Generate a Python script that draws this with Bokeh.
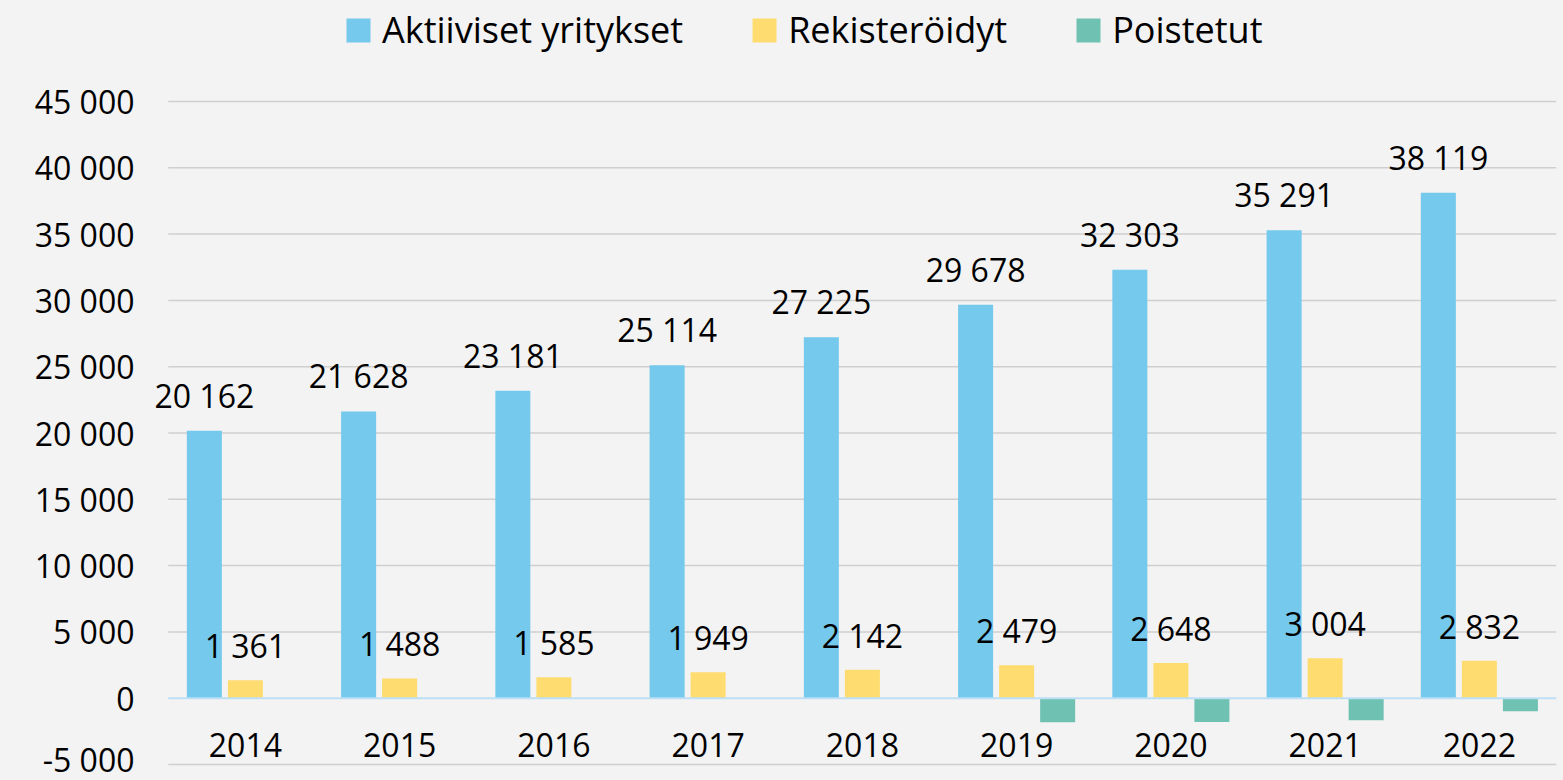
from bokeh.plotting import figure
from bokeh.layouts import column
from bokeh.models import (ColumnDataSource, Range1d, FixedTicker, CustomJSTickFormatter,
                          Legend, LegendItem, LabelSet)
from bokeh.transform import dodge
from bokeh.core.properties import value
from bokeh.embed import file_html
from bokeh.resources import INLINE

years = ["2014", "2015", "2016", "2017", "2018", "2019", "2020", "2021", "2022"]
aktiiviset = [20162, 21628, 23181, 25114, 27225, 29678, 32303, 35291, 38119]
rekisteroidyt = [1361, 1488, 1585, 1949, 2142, 2479, 2648, 3004, 2832]
poistetut = [float("nan")] * 5 + [-1810, -1800, -1660, -980]
y_ticks = [-5000, 0, 5000, 10000, 15000, 20000, 25000, 30000, 35000, 40000, 45000]

series_names = ["Aktiiviset yritykset", "Rekisteröidyt", "Poistetut"]
colors = ["#74C9EC", "#FFDC6F", "#6FC1B2"]

FONT = "Open Sans"
FS = "32px"
BG = "#F3F3F3"


def fmt(v):
    return f"{v:,}".replace(",", " ")


n = len(years)
pos = list(range(n))  # category slot index

src = ColumnDataSource(dict(
    pos=pos,
    year=years,
    akt=aktiiviset,
    rek=rekisteroidyt,
    poi=poistetut,
    akt_lbl=[fmt(v) for v in aktiiviset],
    rek_lbl=[fmt(v) for v in rekisteroidyt],
    zero=[0] * n,
))

# category slots span [-0.5, n-0.5]; a little extra room on the left for labels
left_room = 0.18
p = figure(width=1563, height=710, x_range=Range1d(-0.5 - left_room, n - 0.5),
           y_range=Range1d(-5150, 45150), output_backend="svg", toolbar_location=None,
           min_border_left=140, min_border_right=7, min_border_top=29, min_border_bottom=14,
           styles={"background-color": BG})
p.background_fill_color = BG
p.border_fill_color = BG
p.outline_line_color = None

p.xaxis.visible = False
p.xgrid.grid_line_color = None
p.ygrid.grid_line_color = None

yax = p.yaxis[0]
yax.ticker = FixedTicker(ticks=y_ticks)
yax.formatter = CustomJSTickFormatter(code="""
const s = Math.abs(tick).toFixed(0).replace(/\\B(?=(\\d{3})+(?!\\d))/g, ' ');
return (tick < 0 ? '-' : '') + s;
""")
yax.axis_line_color = None
yax.major_tick_line_color = None
yax.minor_tick_line_color = None
yax.major_tick_out = 0
yax.major_tick_in = 0
yax.major_label_standoff = 6
yax.major_label_text_font = FONT
yax.major_label_text_font_size = FS
yax.major_label_text_color = "#000000"

# horizontal gridlines across the category slots
grid_ticks = [t for t in y_ticks if t != 0]
p.segment(x0=[-0.5] * len(grid_ticks), x1=[n - 0.5] * len(grid_ticks),
          y0=grid_ticks, y1=grid_ticks, line_color="#CFCFCF", line_width=1.5)

offsets = [-0.266, 0.0, 0.266]
fields = ["akt", "rek", "poi"]
for f, off, c in zip(fields, offsets, colors):
    p.vbar(x=dodge("pos", off), top=f, bottom=0, width=0.227,
           source=src, fill_color=c, line_color=None)

# zero (category) axis line
p.segment(x0=[-0.5], x1=[n - 0.5], y0=[0], y1=[0], line_color="#BDDFF5", line_width=2)

# data labels
p.add_layout(LabelSet(x=dodge("pos", offsets[0]), y="akt", text="akt_lbl",
                      source=src, text_align="center", text_baseline="alphabetic", y_offset=23,
                      text_font=value(FONT), text_font_size=value(FS), text_color="#000000"))
p.add_layout(LabelSet(x=dodge("pos", offsets[1]), y="rek", text="rek_lbl",
                      source=src, text_align="center", text_baseline="alphabetic", y_offset=22,
                      text_font=value(FONT), text_font_size=value(FS), text_color="#000000"))

# category labels just below the zero line
p.add_layout(LabelSet(x="pos", y="zero", text="year", source=src,
                      text_align="center", text_baseline="alphabetic", y_offset=-59,
                      text_font=value(FONT), text_font_size=value(FS), text_color="#000000"))

# ---- legend strip ----
lg = figure(width=1563, height=70, x_range=Range1d(0, 1), y_range=Range1d(0, 1),
            output_backend="svg", toolbar_location=None,
            x_axis_location=None, y_axis_location=None,
            min_border_left=0, min_border_right=0, min_border_top=0, min_border_bottom=0,
            styles={"background-color": BG})
lg.background_fill_color = BG
lg.border_fill_color = BG
lg.outline_line_color = None
lg.grid.visible = False
# zero-height proxy bars, only used to draw the legend swatches
proxy = ColumnDataSource(dict(x=[0.5], top=[0.0]))
leg_renderers = [lg.vbar(x="x", top="top", width=0.1, source=proxy, fill_color=c, line_color=None)
                 for c in colors]
legend = Legend(items=[LegendItem(label=s, renderers=[r]) for s, r in zip(series_names, leg_renderers)],
                orientation="horizontal", location=(203, 16), padding=0, margin=0,
                border_line_color=None, background_fill_alpha=0,
                glyph_width=30, glyph_height=30, label_standoff=9, spacing=66,
                label_text_font=FONT, label_text_font_size="36px", label_text_color="#000000")
lg.add_layout(legend)

layout = column(lg, p, spacing=0, styles={"background-color": BG})
open("out.html", "w").write(file_html(layout, INLINE))
